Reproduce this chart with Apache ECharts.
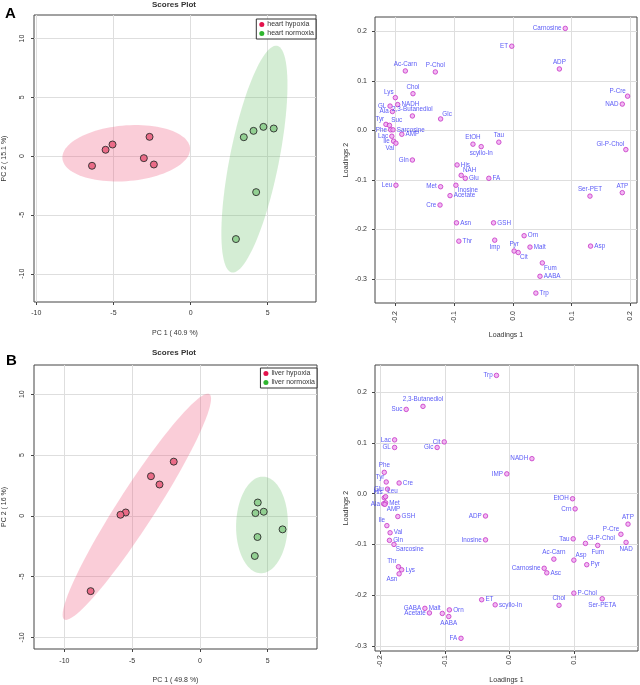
<!DOCTYPE html>
<html>
<head>
<meta charset="utf-8">
<title>Scores and loadings</title>
<script src="https://cdn.jsdelivr.net/npm/echarts@6/dist/echarts.min.js"></script>
<style>
html, body { margin: 0; padding: 0; background: #fff; }
#chart { width: 640px; height: 685px; }
</style>
</head>
<body>
<div id="chart"></div>
<script>
// ---- scores (PC1 / PC2) ----
var heartHypoxiaPC1 = [-6.39, -5.51, -5.06, -2.66, -3.03, -2.38];
var heartHypoxiaPC2 = [-0.82, 0.54, 0.99, 1.64, -0.17, -0.71];
var heartNormoxiaPC1 = [3.45, 4.08, 4.72, 5.39, 4.25, 2.94];
var heartNormoxiaPC2 = [1.61, 2.15, 2.49, 2.35, -3.06, -7.05];

var liverHypoxiaPC1 = [-1.93, -3.61, -2.98, -5.47, -5.86, -8.06];
var liverHypoxiaPC2 = [4.45, 3.25, 2.57, 0.27, 0.08, -6.2];
var liverNormoxiaPC1 = [4.27, 4.10, 4.71, 6.10, 4.25, 4.05];
var liverNormoxiaPC2 = [1.09, 0.22, 0.33, -1.12, -1.75, -3.31];

// ---- loadings ----
var heartNames = ['Carnosine', 'ET', 'Ac-Carn', 'P-Chol', 'ADP', 'Chol', 'Lys', 'P-Cre', 'NAD', 'GL',
    'NADH', 'Ala', '2,3-Butanediol', 'Glc', 'Tyr', 'Suc', 'Phe', 'Sarcosine', 'Lac', 'AMP',
    'Ile', 'Val', 'EtOH', 'Tau', 'scyllo-In', 'Gl-P-Chol', 'Gln', 'His', 'NAH', 'Glu',
    'FA', 'Leu', 'Met', 'Inosine', 'Acetate', 'Ser-PET', 'ATP', 'Cre', 'Asn', 'GSH',
    'Orn', 'Thr', 'Imp', 'Pyr', 'Cit', 'Malt', 'Asp', 'Fum', 'AABA', 'Trp'];
var heartLoad1 = [0.089, -0.002, -0.183, -0.132, 0.079, -0.170, -0.200, 0.195, 0.186, -0.209,
    -0.196, -0.205, -0.171, -0.123, -0.216, -0.210, -0.208, -0.204, -0.206, -0.189,
    -0.203, -0.199, -0.068, -0.024, -0.054, 0.192, -0.171, -0.095, -0.088, -0.081,
    -0.041, -0.199, -0.123, -0.097, -0.107, 0.131, 0.186, -0.124, -0.096, -0.033,
    0.019, -0.092, -0.031, 0.002, 0.009, 0.029, 0.132, 0.050, 0.046, 0.039];
var heartLoad2 = [0.206, 0.170, 0.120, 0.118, 0.124, 0.074, 0.066, 0.069, 0.053, 0.049,
    0.052, 0.038, 0.029, 0.023, 0.012, 0.010, 0.001, 0.001, -0.012, -0.008,
    -0.022, -0.026, -0.028, -0.024, -0.033, -0.039, -0.060, -0.070, -0.091, -0.097,
    -0.097, -0.111, -0.114, -0.111, -0.132, -0.133, -0.126, -0.151, -0.187, -0.187,
    -0.213, -0.224, -0.222, -0.244, -0.247, -0.236, -0.234, -0.268, -0.295, -0.329];

var liverNames = ['Trp', '2,3-Butanediol', 'Suc', 'Lac', 'Cit', 'GL', 'Glc', 'NADH', 'Phe', 'IMP',
    'Tyr', 'Cre', 'Glu', 'His', 'Leu', 'EtOH', 'Met', 'Ala', 'AMP', 'Crn',
    'GSH', 'ADP', 'ATP', 'Ile', 'P-Cre', 'Val', 'Gln', 'Sarcosine', 'Tau', 'Inosine',
    'Gl-P-Chol', 'NAD', 'Fum', 'Ac-Carn', 'Asp', 'Pyr', 'Thr', 'Lys', 'Carnosine', 'Asn',
    'Asc', 'P-Chol', 'Ser-PETA', 'Chol', 'ET', 'scyllo-In', 'GABA', 'Acetate', 'Malt', 'Orn',
    'AABA', 'FA'];
var liverLoad1 = [-0.020, -0.134, -0.160, -0.178, -0.101, -0.178, -0.112, 0.035, -0.194, -0.004,
    -0.191, -0.171, -0.189, -0.194, -0.192, 0.098, -0.192, -0.195, -0.193, 0.102,
    -0.173, -0.037, 0.184, -0.190, 0.173, -0.185, -0.186, -0.179, 0.099, -0.037,
    0.118, 0.181, 0.137, 0.069, 0.100, 0.120, -0.172, -0.167, 0.054, -0.171,
    0.058, 0.100, 0.144, 0.077, -0.043, -0.022, -0.131, -0.124, -0.104, -0.093,
    -0.094, -0.075];
var liverLoad2 = [0.233, 0.172, 0.166, 0.106, 0.102, 0.091, 0.091, 0.069, 0.042, 0.039,
    0.023, 0.021, 0.009, -0.008, -0.006, -0.010, -0.018, -0.020, -0.021, -0.030,
    -0.045, -0.044, -0.060, -0.063, -0.080, -0.077, -0.092, -0.100, -0.089, -0.091,
    -0.098, -0.096, -0.102, -0.129, -0.131, -0.140, -0.144, -0.150, -0.147, -0.158,
    -0.156, -0.196, -0.207, -0.220, -0.209, -0.219, -0.226, -0.235, -0.236, -0.229,
    -0.242, -0.285];

// where each loading label sits relative to its point (style only)
var heartLabelSide = {
    'Carnosine': 'l', 'ET': 'l', 'Ac-Carn': 't', 'P-Chol': 't', 'ADP': 't', 'Chol': 't', 'Lys': 'tl',
    'P-Cre': 'tl', 'NAD': 'l', 'GL': 'l', 'NADH': 'r', 'Ala': 'l', '2,3-Butanediol': 't', 'Glc': 'tr',
    'Tyr': 'tl', 'Suc': 'tr', 'Phe': 'l', 'Sarcosine': 'r', 'Lac': 'l', 'AMP': 'r', 'Ile': 'l',
    'Val': 'bl', 'EtOH': 't', 'Tau': 't', 'scyllo-In': 'b', 'Gl-P-Chol': 'tl', 'Gln': 'l', 'His': 'r',
    'NAH': 'tr', 'Glu': 'r', 'FA': 'r', 'Leu': 'l', 'Met': 'l', 'Inosine': 'br', 'Acetate': 'r',
    'Ser-PET': 't', 'ATP': 't', 'Cre': 'l', 'Asn': 'r', 'GSH': 'r', 'Orn': 'r', 'Thr': 'r',
    'Imp': 'b', 'Pyr': 't', 'Cit': 'br', 'Malt': 'r', 'Asp': 'r', 'Fum': 'br', 'AABA': 'r', 'Trp': 'r'
};
var liverLabelSide = {
    'Trp': 'l', '2,3-Butanediol': 't', 'Suc': 'l', 'Lac': 'l', 'Cit': 'l', 'GL': 'l', 'Glc': 'l',
    'NADH': 'l', 'Phe': 't', 'IMP': 'l', 'Tyr': 'tl', 'Cre': 'r', 'Glu': 'l', 'His': 'tl', 'Leu': 'tr',
    'EtOH': 'l', 'Met': 'r', 'Ala': 'l', 'AMP': 'br', 'Crn': 'l', 'GSH': 'r', 'ADP': 'l', 'ATP': 't',
    'Ile': 'tl', 'P-Cre': 'tl', 'Val': 'r', 'Gln': 'r', 'Sarcosine': 'br', 'Tau': 'l', 'Inosine': 'l',
    'Gl-P-Chol': 'tr', 'NAD': 'b', 'Fum': 'b', 'Ac-Carn': 't', 'Asp': 'tr', 'Pyr': 'r', 'Thr': 'tl',
    'Lys': 'r', 'Carnosine': 'l', 'Asn': 'bl', 'Asc': 'r', 'P-Chol': 'r', 'Ser-PETA': 'b', 'Chol': 't',
    'ET': 'r', 'scyllo-In': 'r', 'GABA': 'l', 'Acetate': 'l', 'Malt': 'tl', 'Orn': 'r', 'AABA': 'b', 'FA': 'l'
};

var scoreTicks = [-10, -5, 0, 5, 10];
var heartLoadTicksX = [-0.2, -0.1, 0, 0.1, 0.2];
var liverLoadTicksX = [-0.2, -0.1, 0, 0.1];
var loadTicksY = [-0.3, -0.2, -0.1, 0, 0.1, 0.2];

var FONT = 'Liberation Sans, Arial, sans-serif';
var TXT = '#333';

function pairs(xs, ys) {
    return xs.map(function (x, i) { return [x, ys[i]]; });
}

// 95% confidence ellipse from the group's covariance
function confEllipse(xs, ys) {
    var n = xs.length, mx = 0, my = 0;
    for (var i = 0; i < n; i++) { mx += xs[i]; my += ys[i]; }
    mx /= n; my /= n;
    var sxx = 0, syy = 0, sxy = 0;
    for (var j = 0; j < n; j++) {
        sxx += (xs[j] - mx) * (xs[j] - mx);
        syy += (ys[j] - my) * (ys[j] - my);
        sxy += (xs[j] - mx) * (ys[j] - my);
    }
    sxx /= (n - 1); syy /= (n - 1); sxy /= (n - 1);
    var a = Math.sqrt(sxx), b = sxy / a, c = Math.sqrt(syy - b * b);
    var t = Math.sqrt(5.991464547);
    var pts = [];
    for (var k = 0; k < 100; k++) {
        var th = 2 * Math.PI * k / 100;
        var u = Math.cos(th) * t, v = Math.sin(th) * t;
        pts.push([mx + a * u, my + b * u + c * v]);
    }
    return pts;
}

function ellipseSeries(idx, xs, ys, fill) {
    var pts = confEllipse(xs, ys);
    return {
        type: 'custom',
        xAxisIndex: idx,
        yAxisIndex: idx,
        silent: true,
        z: 1,
        data: [pts[0]],
        renderItem: function (params, api) {
            return {
                type: 'polygon',
                shape: { points: pts.map(function (p) { return api.coord(p); }) },
                style: { fill: fill, stroke: null }
            };
        }
    };
}

function scoreSeries(idx, name, xs, ys, fill) {
    return {
        type: 'scatter',
        name: name,
        xAxisIndex: idx,
        yAxisIndex: idx,
        z: 3,
        symbolSize: 7,
        itemStyle: { color: fill, borderColor: '#2b2b2b', borderWidth: 0.9, opacity: 1 },
        data: pairs(xs, ys)
    };
}

var sideMap = {
    l: { position: 'left' },
    r: { position: 'right' },
    t: { position: 'top' },
    b: { position: 'bottom' },
    tl: { position: 'left', offset: [2, -5] },
    tr: { position: 'right', offset: [-2, -5] },
    bl: { position: 'left', offset: [2, 5] },
    br: { position: 'right', offset: [-2, 5] }
};

function loadingSeries(idx, names, xs, ys, sides) {
    return {
        type: 'scatter',
        xAxisIndex: idx,
        yAxisIndex: idx,
        symbolSize: 4.5,
        itemStyle: { color: '#efa6ef', borderColor: '#c633c6', borderWidth: 1 },
        label: {
            show: true,
            formatter: '{b}',
            distance: 1,
            fontSize: 6.3,
            fontFamily: FONT,
            color: '#2f2ff5'
        },
        data: names.map(function (nm, i) {
            var s = sideMap[sides[nm] || 'r'];
            return {
                name: nm,
                value: [xs[i], ys[i]],
                label: { position: s.position, offset: s.offset || [0, 0] }
            };
        })
    };
}

function axis(grid, min, max, ticks, o) {
    return {
        type: 'value',
        gridIndex: grid,
        min: min,
        max: max,
        name: o.name,
        nameLocation: 'middle',
        nameGap: o.nameGap,
        nameTextStyle: { fontSize: 7, fontFamily: FONT, color: TXT },
        axisLine: { show: false, onZero: false },
        axisTick: { show: true, length: 3, customValues: ticks, lineStyle: { color: '#444' } },
        axisLabel: {
            customValues: ticks,
            fontSize: 7,
            fontFamily: FONT,
            color: TXT,
            rotate: o.rotate || 0,
            margin: o.margin,
            formatter: o.fmt
        },
        splitLine: { show: true, lineStyle: { color: '#dedede', width: 1 } }
    };
}

function oneDec(v) { return v.toFixed(1); }
function plain(v) { return String(v); }

function gridBox(left, top, w, h) {
    return { left: left, top: top, width: w, height: h, show: true, borderColor: '#444', borderWidth: 1, backgroundColor: '#fff' };
}

function legendBox(right, top, items) {
    return {
        orient: 'vertical',
        right: right,
        top: top,
        selectedMode: false,
        backgroundColor: '#fff',
        borderColor: '#333',
        borderWidth: 1,
        borderRadius: 0,
        padding: [2, 2, 2, 3],
        itemGap: 2,
        itemWidth: 5,
        itemHeight: 5,
        icon: 'circle',
        textStyle: { fontSize: 7, fontFamily: FONT, color: TXT, padding: [0, 0, 0, -2] },
        data: items.map(function (it) {
            return { name: it[0], itemStyle: { color: it[1], borderWidth: 0 } };
        })
    };
}

var chart = echarts.init(document.getElementById('chart'));

var option = {
    animation: false,
    backgroundColor: '#fff',
    graphic: [
        { type: 'text', x: 5, y: 6, style: { text: 'A', font: 'bold 15px ' + FONT, fill: '#000' } },
        { type: 'text', x: 6, y: 353, style: { text: 'B', font: 'bold 15px ' + FONT, fill: '#000' } },
        { type: 'text', x: 174, y: 1, style: { text: 'Scores Plot', font: 'bold 8px ' + FONT, fill: TXT, textAlign: 'center' } },
        { type: 'text', x: 174, y: 349, style: { text: 'Scores Plot', font: 'bold 8px ' + FONT, fill: TXT, textAlign: 'center' } }
    ],
    legend: [
        legendBox(324, 19, [['heart hypoxia', '#e3124c'], ['heart normoxia', '#2fb52f']]),
        legendBox(323, 368, [['liver hypoxia', '#e3124c'], ['liver normoxia', '#2fb52f']])
    ],
    grid: [
        gridBox(32, 15, 284, 287),
        gridBox(375, 17, 262, 286),
        gridBox(32, 365, 285, 285),
        gridBox(375, 365, 263, 287)
    ],
    xAxis: [
        axis(0, -10.15, 8.13, scoreTicks, { name: 'PC 1 ( 40.9 %)', nameGap: 28, margin: 8, fmt: plain }),
        axis(1, -0.2346, 0.211, heartLoadTicksX, { name: 'Loadings 1', nameGap: 29, margin: 8, rotate: 90, fmt: oneDec }),
        axis(2, -12.24, 8.64, scoreTicks, { name: 'PC 1 ( 49.8 %)', nameGap: 28, margin: 9, fmt: plain }),
        axis(3, -0.2084, 0.1995, liverLoadTicksX, { name: 'Loadings 1', nameGap: 26, margin: 4, rotate: 90, fmt: oneDec })
    ],
    yAxis: [
        axis(0, -12.4, 12.0, scoreTicks, { name: 'PC 2 ( 15.1 %)', nameGap: 26, margin: 8, rotate: 90, fmt: plain }),
        axis(1, -0.349, 0.229, loadTicksY, { name: 'Loadings 2', nameGap: 25, margin: 8, fmt: oneDec }),
        axis(2, -10.96, 12.4, scoreTicks, { name: 'PC 2 ( 16 %)', nameGap: 26, margin: 8, rotate: 90, fmt: plain }),
        axis(3, -0.31, 0.2535, loadTicksY, { name: 'Loadings 2', nameGap: 25, margin: 8, fmt: oneDec })
    ],
    series: [
        ellipseSeries(0, heartHypoxiaPC1, heartHypoxiaPC2, 'rgba(240,100,135,0.32)'),
        ellipseSeries(0, heartNormoxiaPC1, heartNormoxiaPC2, 'rgba(100,190,100,0.28)'),
        scoreSeries(0, 'heart hypoxia', heartHypoxiaPC1, heartHypoxiaPC2, '#ea6b87'),
        scoreSeries(0, 'heart normoxia', heartNormoxiaPC1, heartNormoxiaPC2, '#92d092'),
        loadingSeries(1, heartNames, heartLoad1, heartLoad2, heartLabelSide),
        ellipseSeries(2, liverHypoxiaPC1, liverHypoxiaPC2, 'rgba(240,100,135,0.32)'),
        ellipseSeries(2, liverNormoxiaPC1, liverNormoxiaPC2, 'rgba(100,190,100,0.28)'),
        scoreSeries(2, 'liver hypoxia', liverHypoxiaPC1, liverHypoxiaPC2, '#ea6b87'),
        scoreSeries(2, 'liver normoxia', liverNormoxiaPC1, liverNormoxiaPC2, '#92d092'),
        loadingSeries(3, liverNames, liverLoad1, liverLoad2, liverLabelSide)
    ]
};

chart.setOption(option);
</script>
</body>
</html>
